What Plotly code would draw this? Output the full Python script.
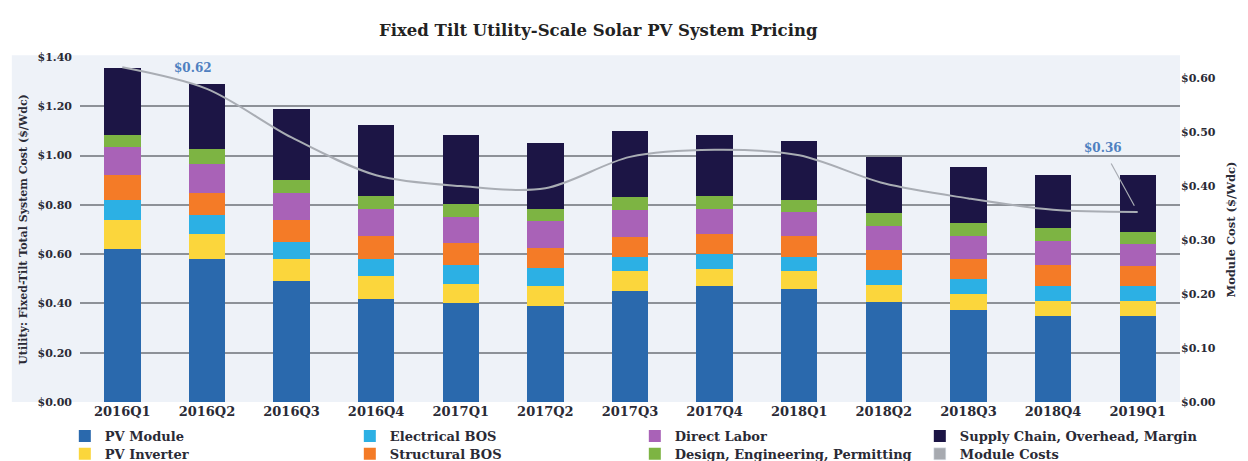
import plotly.graph_objects as go

quarters = ["2016Q1", "2016Q2", "2016Q3", "2016Q4", "2017Q1", "2017Q2", "2017Q3",
            "2017Q4", "2018Q1", "2018Q2", "2018Q3", "2018Q4", "2019Q1"]

pv_module = [0.62, 0.58, 0.49, 0.42, 0.40, 0.39, 0.45, 0.47, 0.46, 0.405, 0.375, 0.35, 0.35]
pv_inverter = [0.12, 0.10, 0.09, 0.09, 0.08, 0.08, 0.08, 0.07, 0.07, 0.07, 0.065, 0.06, 0.06]
electrical_bos = [0.08, 0.08, 0.07, 0.07, 0.075, 0.075, 0.06, 0.06, 0.06, 0.06, 0.06, 0.06, 0.06]
structural_bos = [0.10, 0.09, 0.09, 0.095, 0.09, 0.08, 0.08, 0.08, 0.085, 0.08, 0.08, 0.085, 0.08]
direct_labor = [0.115, 0.115, 0.11, 0.11, 0.105, 0.11, 0.11, 0.105, 0.095, 0.10, 0.095, 0.10, 0.09]
design_eng = [0.05, 0.06, 0.05, 0.05, 0.055, 0.05, 0.05, 0.05, 0.05, 0.05, 0.05, 0.05, 0.05]
supply_chain = [0.27, 0.265, 0.29, 0.29, 0.28, 0.265, 0.27, 0.25, 0.24, 0.23, 0.23, 0.215, 0.23]
module_costs = [0.62, 0.58, 0.49, 0.42, 0.40, 0.396, 0.454, 0.467, 0.457, 0.405, 0.377, 0.356, 0.352]

left_ticks = [0.0, 0.2, 0.4, 0.6, 0.8, 1.0, 1.2, 1.4]
right_ticks = [0.0, 0.1, 0.2, 0.3, 0.4, 0.5, 0.6]

series = [
    ("PV Module", pv_module, "#2a69ad", "legend"),
    ("PV Inverter", pv_inverter, "#fbd63c", "legend2"),
    ("Electrical BOS", electrical_bos, "#2cb0e4", "legend"),
    ("Structural BOS", structural_bos, "#f47b27", "legend2"),
    ("Direct Labor", direct_labor, "#a962b7", "legend"),
    ("Design, Engineering, Permitting", design_eng, "#7db443", "legend2"),
    ("Supply Chain, Overhead, Margin", supply_chain, "#1c1545", "legend"),
]

FONT = "DejaVu Serif"
TXT = "#2a2a35"

fig = go.Figure()
for name, vals, color, lg in series:
    fig.add_trace(go.Bar(x=quarters, y=vals, name=name, marker_color=color,
                         marker_line_width=0, legend=lg))

# legend-only entry for Module Costs (square symbol like reference)
fig.add_trace(go.Bar(x=[None], y=[None], name="Module Costs", marker_color="#a7aab0",
                     legend="legend2"))

fig.add_trace(go.Scatter(x=quarters, y=module_costs, yaxis="y2", mode="lines",
                         line=dict(color="#a9adb4", width=2, shape="spline", smoothing=0.9),
                         name="Module Costs", showlegend=False))

legend_common = dict(orientation="h", x=-0.0138, xanchor="left", yanchor="top",
                     entrywidth=240, entrywidthmode="pixels", traceorder="normal",
                     bgcolor="rgba(0,0,0,0)", itemclick=False,
                     font=dict(family=FONT, size=13, color=TXT, weight="bold"))

# page is rendered with an 8px body margin, so the figure is sized/offset to compensate
fig.update_layout(
    width=1240, height=453,
    barmode="stack", bargap=0.57,
    paper_bgcolor="white", plot_bgcolor="#eef2f8",
    margin=dict(l=72, r=68, t=49, b=59, autoexpand=False),
    font=dict(family=FONT, color=TXT, weight="bold"),
    title=dict(text="Fixed Tilt Utility-Scale Solar PV System Pricing",
               x=0.476, xanchor="center", y=0.9514, yanchor="middle",
               font=dict(family=FONT, size=16.5, color="#222222", weight="bold")),
    xaxis=dict(range=[-0.5, 12.5], showgrid=False, zeroline=False, showline=False,
               ticks="", tickfont=dict(family=FONT, size=13, color=TXT, weight="bold")),
    yaxis=dict(range=[0, 1.40], tickvals=left_ticks,
               ticktext=[f"${v:.2f}" for v in left_ticks],
               showgrid=True, gridcolor="#8d9198", gridwidth=1.6, zeroline=False,
               showline=False, ticks="", ticklabelstandoff=7,
               tickfont=dict(family=FONT, size=11, color=TXT, weight="bold"),
               title=dict(text="Utility: Fixed-Tilt Total System Cost ($/Wdc)", standoff=7,
                          font=dict(family=FONT, size=11, color=TXT, weight="bold"))),
    yaxis2=dict(range=[0, 0.639], overlaying="y", side="right", tickvals=right_ticks,
                ticktext=[f"${v:.2f}" for v in right_ticks],
                showgrid=False, zeroline=False, showline=False, ticks="",
                tickfont=dict(family=FONT, size=11, color=TXT, weight="bold"),
                title=dict(text="Module Cost ($/Wdc)", standoff=12,
                           font=dict(family=FONT, size=11.5, color=TXT, weight="bold"))),
    legend=dict(legend_common, y=-0.055),
    legend2=dict(legend_common, y=-0.107),
    shapes=[dict(type="rect", xref="paper", yref="paper", x0=-0.062, x1=1.0, y0=0, y1=1.005,
                 fillcolor="#eef2f8", line=dict(width=0), layer="below")],
    annotations=[
        dict(x=0.83, y=0.619, xref="x", yref="y2", text="$0.62", showarrow=False,
             font=dict(family=FONT, size=12, color="#4f80c0", weight="bold")),
        dict(x=12, y=0.352, xref="x", yref="y2", text="$0.36", showarrow=True,
             ax=-35, ay=-64, arrowhead=0, arrowwidth=1.2, arrowcolor="#a9adb4",
             standoff=7, startstandoff=8,
             font=dict(family=FONT, size=12, color="#4f80c0", weight="bold")),
    ],
)

fig.write_html("out.html")
